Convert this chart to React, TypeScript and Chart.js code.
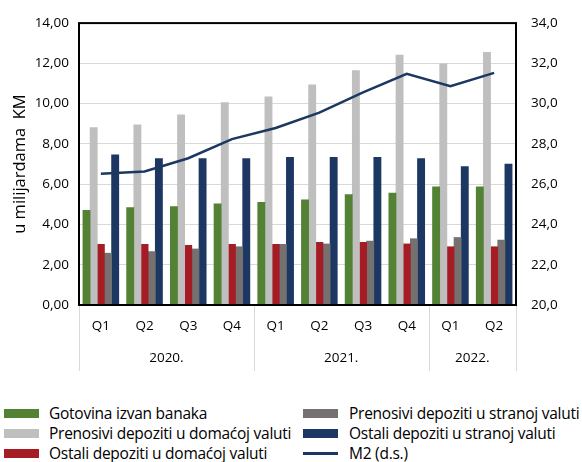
import React, { useEffect, useRef } from 'react';
import { Chart, registerables } from 'chart.js';

Chart.register(...registerables);

const quarters = ['Q1', 'Q2', 'Q3', 'Q4', 'Q1', 'Q2', 'Q3', 'Q4', 'Q1', 'Q2'];
const years = ['2020.', '2021.', '2022.'];
const yearSpans = [4, 4, 2];

const gotovina = [4.72, 4.85, 4.91, 5.04, 5.11, 5.24, 5.5, 5.57, 5.88, 5.88];
const prenosiviDomaca = [8.83, 8.96, 9.46, 10.07, 10.36, 10.95, 11.66, 12.43, 11.99, 12.56];
const ostaliDomaca = [3.03, 3.03, 2.98, 3.03, 3.03, 3.13, 3.13, 3.05, 2.91, 2.91];
const prenosiviStrana = [2.59, 2.67, 2.8, 2.91, 3.03, 3.05, 3.19, 3.31, 3.37, 3.24];
const ostaliStrana = [7.48, 7.29, 7.29, 7.29, 7.35, 7.35, 7.35, 7.29, 6.89, 7.02];
const m2 = [26.52, 26.63, 27.29, 28.24, 28.79, 29.55, 30.56, 31.48, 30.87, 31.53];

const seriesNames = [
  'Gotovina izvan banaka',
  'Prenosivi depoziti u domaćoj valuti',
  'Ostali depoziti u domaćoj valuti',
  'Prenosivi depoziti u stranoj valuti',
  'Ostali depoziti u stranoj valuti',
  'M2 (d.s.)',
];
const seriesColors = ['#548235', '#bfbfbf', '#a61c24', '#767171', '#1c3762', '#1c3762'];

const yTitle = 'u milijardama  KM';
const FONT = "'Open Sans', sans-serif";

const CANVAS_H = 385;

const framePlugin = {
  id: 'frameAndGroups',
  afterDraw(chart: any) {
    const { ctx, chartArea } = chart;
    const { left, right, top, bottom } = chartArea;
    const x = chart.scales.x;
    const w = x.getPixelForValue(1) - x.getPixelForValue(0);
    ctx.save();
    ctx.strokeStyle = '#d9d9d9';
    ctx.lineWidth = 1;
    let start = 0;
    const bounds: number[] = [x.getPixelForValue(0) - w / 2];
    yearSpans.forEach((s) => {
      start += s;
      bounds.push(x.getPixelForValue(start - 1) + w / 2);
    });
    bounds.forEach((b) => {
      ctx.beginPath();
      ctx.moveTo(Math.round(b) + 0.5, bottom);
      ctx.lineTo(Math.round(b) + 0.5, bottom + 66);
      ctx.stroke();
    });
    ctx.fillStyle = '#000';
    ctx.font = `13.5px ${FONT}`;
    ctx.textAlign = 'center';
    ctx.textBaseline = 'middle';
    years.forEach((yr, i) => {
      ctx.fillText(yr, (bounds[i] + bounds[i + 1]) / 2, 358);
    });
    ctx.strokeStyle = '#000';
    ctx.lineWidth = 2;
    ctx.strokeRect(left, top, right - left, bottom - top);
    ctx.restore();
  },
};

function Legend() {
  const order = [
    [0, 3],
    [1, 4],
    [2, 5],
  ];
  const rowY = [412.5, 433, 453];
  const colX = [4, 303];
  const textX = [49, 349];
  const items: any[] = [];
  order.forEach((row, r) => {
    row.forEach((idx, c) => {
      const isLine = idx === 5;
      items.push(
        <div key={idx}>
          <div
            style={{
              position: 'absolute',
              left: colX[c],
              top: isLine ? rowY[r] - 1 : rowY[r] - 4,
              width: 35,
              height: isLine ? 2.5 : 9,
              background: seriesColors[idx],
            }}
          />
          <div
            style={{
              position: 'absolute',
              left: textX[c],
              top: rowY[r] - 11,
              height: 22,
              lineHeight: '22px',
              fontFamily: FONT,
              fontSize: 15.5,
              color: '#000',
              whiteSpace: 'nowrap',
              letterSpacing: '-0.25px',
            }}
          >
            {seriesNames[idx]}
          </div>
        </div>
      );
    });
  });
  return <>{items}</>;
}

export default function App() {
  const ref = useRef<HTMLCanvasElement>(null);
  useEffect(() => {
    if (!ref.current) return;
    const barData = [gotovina, prenosiviDomaca, ostaliDomaca, prenosiviStrana, ostaliStrana];
    const chart = new Chart(ref.current, {
      data: {
        labels: quarters,
        datasets: [
          {
            type: 'line' as const,
            label: seriesNames[5],
            data: m2,
            yAxisID: 'y1',
            borderColor: seriesColors[5],
            borderWidth: 2.5,
            pointRadius: 0,
            tension: 0,
            order: 0,
          },
          ...barData.map((d, i) => ({
            type: 'bar' as const,
            label: seriesNames[i],
            data: d,
            yAxisID: 'y',
            backgroundColor: seriesColors[i],
            borderWidth: 0,
            categoryPercentage: 0.82,
            barPercentage: 1.1,
            order: 1,
          })),
        ],
      },
      options: {
        responsive: false,
        animation: false,
        maintainAspectRatio: false,
        layout: { padding: { top: 20, left: 0, right: 0, bottom: 0 } },
        plugins: { legend: { display: false }, tooltip: { enabled: false } },
        scales: {
          x: {
            grid: { display: false, drawTicks: false },
            border: { display: false },
            ticks: { color: '#000', font: { family: FONT, size: 13.5 }, padding: 13 },
            afterFit: (s: any) => {
              s.height = CANVAS_H - 305;
            },
          },
          y: {
            position: 'left',
            min: 0,
            max: 14,
            grid: { color: '#d9d9d9', lineWidth: 1, drawTicks: false },
            border: { display: false },
            ticks: {
              stepSize: 2,
              color: '#000',
              padding: 10,
              font: { family: FONT, size: 13.5 },
              callback: (v: any) => Number(v).toFixed(2).replace('.', ','),
            },
            title: {
              display: true,
              text: yTitle,
              color: '#000',
              font: { family: FONT, size: 16.5 },
              padding: { top: 10, bottom: 0 },
            },
            afterFit: (s: any) => {
              s.width = 79;
            },
          },
          y1: {
            position: 'right',
            min: 20,
            max: 34,
            grid: { display: false, drawTicks: false },
            border: { display: false },
            ticks: {
              stepSize: 2,
              color: '#000',
              padding: 15,
              font: { family: FONT, size: 13.5 },
              callback: (v: any) => Number(v).toFixed(1).replace('.', ','),
            },
            afterFit: (s: any) => {
              s.width = 66;
            },
          },
        },
      },
      plugins: [framePlugin],
    });
    return () => chart.destroy();
  }, []);

  return (
    <div style={{ position: 'absolute', left: 0, top: 0, width: 582, height: 462, background: '#fff' }}>
      <canvas ref={ref} width={582} height={CANVAS_H} style={{ display: 'block' }} />
      <Legend />
    </div>
  );
}
